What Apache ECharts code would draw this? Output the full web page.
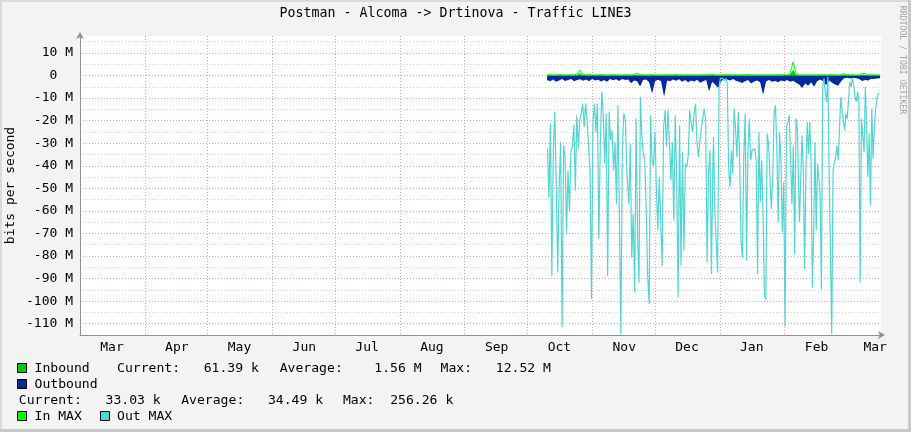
<!DOCTYPE html>
<html><head><meta charset="utf-8">
<script src="https://cdn.jsdelivr.net/npm/echarts@6/dist/echarts.min.js"></script>
<style>html,body{margin:0;padding:0;background:#f3f3f3}#c{width:911px;height:432px}</style>
</head><body><div id="c"></div>
<script>
// ---------- data ----------
const TITLE = 'Postman - Alcoma -> Drtinova - Traffic LINE3';
const Y_TITLE = 'bits per second';
const WATERMARK = 'RRDTOOL / TOBI OETIKER';
// x axis: days counted from 1 March
const MONTH_NAMES = ['Mar','Apr','May','Jun','Jul','Aug','Sep','Oct','Nov','Dec','Jan','Feb','Mar'];
const MONTH_START_DAYS = [0,31,61,92,122,153,184,214,245,275,306,337,365];
const LABEL_OFFSET_DAYS = 15.3;
const X_MIN = 0, X_MAX = 383.1;
// y axis in M (bits/s)
const Y_MIN = -115, Y_MAX = 17.5, Y_STEP = 5;

// Out MAX (plotted negative), read in four consecutive stretches
const outMaxA = [-32.4,-53.9,-21.3,-88.7,-33.9,-16.1,-48.0,-87.3,-48.7,-29.5,
 -111.7,-31.0,-36.1,-70.2,-42.0,-60.6,-33.2,-31.7,-22.0,-51.0,
 -17.6,-32.4,-19.9,-16.9,-12.4,-22.8,-12.4,-19.9,-19.9,-42.0,
 -99.1,-20.6,-12.4,-25.0,-12.4,-72.4,-30.2,-7.3,-16.9,-39.1,
 -16.9,-88.7,-16.1,-28.7,-24.3,-42.0,-29.5,-56.9,-13.2,-12.4,
 -114.7,-32.4,-16.9,-19.1,-41.3];
const outMaxB = [-56.9,-30.2,-80.6,-61.3,-96.1,-19.1,-70.2,-91.7,-9.5,-27.3,
 -34.7,-37.6,-59.9,-88.7,-101.3,-17.6,-37.6,-39.9,-25.0,-49.5,
 -68.7,-45.0,-45.0,-84.3,-22.8,-15.4,-31.7,-15.4,-28.7,-46.5,
 -29.5,-64.3,-17.6,-45.0,-98.4,-22.1,-84.3,-33.9,-77.6,-39.1,
 -40.6,-35.4,-15.4,-21.3,-25.0,-16.9,-12.4,-29.5,-36.1,-28.7,
 -28.7,-19.1,-14.7,-19.9,-82.8,-43.6,-33.2,-88.0,-39.1];
const outMaxC = [-27.3,-61.3,-61.3,-87.3,-5.0,-1.3,-1.3,-1.3,-2.4,-1.3,
 -3.6,-41.3,-49.5,-33.2,-43.6,-14.7,-23.6,-36.1,-16.1,-38.4,
 -73.9,-80.6,-36.1,-16.9,-82.1,-33.2,-19.1,-37.6,-33.2,-33.2,
 -32.4,-37.6,-88.0,-25.0,-56.1,-37.6,-61.3,-97.6,-99.1,-25.8,
 -30.2,-45.0,-59.1,-45.8,-16.9,-13.2,-31.7,-65.0,-25.0,-37.6,
 -69.5,-47.3,-111.0,-22.8,-20.6,-17.6,-17.6,-56.9,-31.0,-79.1,
 -19.1,-24.3,-53.9];
const outMaxD = [-65.0,-65.8,-26.5,-42.8,-85.8,-42.0,-20.6,-34.7,-20.6,-37.6,
 -93.9,-70.2,-29.5,-68.7,-39.1,-39.1,-52.4,-94.7,-5.0,-1.3,
 -7.3,-11.7,-0.6,-44.3,-45.0,-114.7,-42.0,-42.0,-36.1,-31.0,
 -37.6,-38.4,-9.5,-15.4,-15.4,-24.3,-16.9,-19.1,-18.4,-2.8,
 -5.0,-1.3,-4.3,-9.5,-11.7,-7.3,-11.0,-91.7,-19.1,-19.1,
 -33.9,-5.0,-22.8,-45.0,-25.8,-57.6,-14.7,-36.9,-22.8,-14.7,
 -10.2,-8.0,-8.0];
// first / last day of each stretch
const outMaxSpans = [[223.56,261.5],[262.5,302.7],[303.0,343.8],[344.1,382.4]];

// Outbound (negative), Inbound, In MAX: regular samples
const SAMPLE_START_DAY = 223.4, SAMPLE_STEP_DAY = 1.435;
const outbound = [-2.0,-2.5,-1.8,-2.8,-2.2,-1.6,-2.4,-2.0,-1.5,-2.6,
 -2.0,-1.7,-2.3,-1.8,-2.5,-1.6,-2.2,-1.9,-2.7,-2.0,
 -2.8,-1.6,-2.1,-1.7,-2.4,-1.5,-2.0,-1.8,-3.4,-2.2,
 -2.6,-4.9,-2.0,-1.8,-3.0,-8.0,-2.4,-1.9,-2.6,-9.5,
 -2.2,-2.5,-1.8,-2.3,-1.7,-2.8,-2.0,-3.0,-2.2,-2.7,
 -1.9,-3.2,-2.5,-2.0,-7.0,-2.8,-4.0,-5.5,-2.5,-1.5,
 -1.8,-2.2,-1.6,-2.4,-2.8,-3.3,-2.6,-2.0,-3.5,-2.7,
 -2.2,-3.0,-8.5,-2.5,-2.0,-2.8,-2.4,-3.0,-2.2,-2.6,
 -2.0,-2.8,-2.3,-3.2,-4.0,-5.5,-3.5,-4.5,-3.0,-5.0,
 -2.5,-1.8,-2.6,-4.2,-2.2,-3.2,-4.0,-4.5,-2.5,-1.2,
 -1.0,-1.3,-1.0,-1.2,-1.5,-2.4,-2.0,-2.2,-1.4,-1.6,
 -1.3,-1.2];
const inbound = [0.1,0.12,0.08,0.1,0.12,0.1,0.08,0.12,0.1,0.1,
 0.2,1.0,0.2,0.1,0.12,0.08,0.1,0.1,0.12,0.1,
 0.08,0.1,0.12,0.1,0.1,0.08,0.12,0.1,0.1,0.12,
 0.4,0.12,0.1,0.08,0.1,0.12,0.1,0.1,0.08,0.1,
 0.12,0.1,0.1,0.12,0.1,0.08,0.1,0.12,0.1,0.1,
 0.08,0.1,0.12,0.1,0.12,0.3,0.1,0.08,0.1,0.1,
 0.12,0.1,0.08,0.1,0.1,0.12,0.1,0.12,0.1,0.08,
 0.1,0.12,0.1,0.1,0.08,0.1,0.12,0.1,0.1,0.12,
 0.1,0.5,2.5,0.3,0.1,0.08,0.1,0.12,0.1,0.1,
 0.08,0.1,0.12,0.1,0.1,0.12,0.1,0.08,0.1,0.4,
 0.12,0.1,0.1,0.08,0.1,0.4,0.3,0.1,0.12,0.1,
 0.1,0.1];
const inMax = [0.3,0.35,0.25,0.3,0.4,0.3,0.25,0.35,0.3,0.3,
 0.6,2.4,0.5,0.3,0.35,0.25,0.3,0.3,0.4,0.3,
 0.25,0.3,0.35,0.3,0.3,0.25,0.35,0.3,0.3,0.4,
 1.1,0.35,0.3,0.25,0.3,0.35,0.3,0.3,0.25,0.3,
 0.35,0.3,0.3,0.4,0.3,0.25,0.3,0.35,0.3,0.3,
 0.25,0.3,0.35,0.3,0.4,0.7,0.3,0.25,0.3,0.3,
 0.35,0.3,0.25,0.3,0.3,0.35,0.3,0.4,0.3,0.25,
 0.3,0.35,0.3,0.3,0.25,0.3,0.35,0.3,0.3,0.4,
 0.3,1.2,6.0,0.8,0.3,0.25,0.3,0.35,0.3,0.3,
 0.25,0.3,0.35,0.3,0.3,0.4,0.3,0.25,0.3,0.9,
 0.35,0.3,0.3,0.25,0.3,1.0,0.8,0.3,0.35,0.3,
 0.3,0.3];

// legend texts
const LEGEND_ROW1 = ['Inbound','Current:   61.39 k','Average:    1.56 M','Max:   12.52 M'];
const LEGEND_ROW2 = ['Outbound'];
const LEGEND_ROW3 = ['Current:   33.03 k','Average:   34.49 k','Max:  256.26 k'];
const LEGEND_ROW4 = ['In MAX','Out MAX'];

// ---------- build ----------
const C_IN = '#00cc00', C_OUT = '#002a97', C_INMAX = '#00ff00', C_OUTMAX = '#52d5d2';
const FONT = '"DejaVu Sans Mono", monospace';

function spread(values, a, b) {
  const step = (b - a) / (values.length - 1);
  return values.map((v, i) => [a + i * step, v]);
}
function sampled(values) {
  return values.map((v, i) => [SAMPLE_START_DAY + i * SAMPLE_STEP_DAY, v]);
}
const outMaxData = [].concat(
  spread(outMaxA, outMaxSpans[0][0], outMaxSpans[0][1]),
  spread(outMaxB, outMaxSpans[1][0], outMaxSpans[1][1]),
  spread(outMaxC, outMaxSpans[2][0], outMaxSpans[2][1]),
  spread(outMaxD, outMaxSpans[3][0], outMaxSpans[3][1]));
const labelDays = MONTH_START_DAYS.map(d => d + LABEL_OFFSET_DAYS);

function txt(x, y, text, extra) {
  return Object.assign({type:'text', x:x, y:y, silent:true,
    style: Object.assign({text:text, font:'13.1px ' + FONT, fill:'#000', align:'left', verticalAlign:'middle'}, extra || {})});
}
function box(x, y, color) {
  return {type:'rect', shape:{x:x, y:y, width:9, height:9}, silent:true,
    style:{fill:color, stroke:'#000', lineWidth:1}};
}

const chart = echarts.init(document.getElementById('c'), null, {renderer:'canvas'});
chart.setOption({
  backgroundColor:'#f3f3f3',
  animation:false,
  grid:{left:80, right:30, top:36, bottom:97, show:true, backgroundColor:'#ffffff', borderWidth:0},
  xAxis:{
    type:'value', min:X_MIN, max:X_MAX,
    axisLine:{show:true, onZero:false, lineStyle:{color:'#909090', width:1},
      symbol:['none','arrow'], symbolSize:[6,7], symbolOffset:[0,4]},
    axisTick:{show:false, customValues:MONTH_START_DAYS},
    axisLabel:{customValues:labelDays, margin:6, color:'#000', fontFamily:FONT, fontSize:13,
      formatter:function(v){ for (let i=0;i<labelDays.length;i++){ if (Math.abs(labelDays[i]-v)<0.01) return MONTH_NAMES[i]; } return ''; }},
    splitLine:{show:true, showMinLine:false, showMaxLine:false, lineStyle:{color:'#e6a0a0', width:1, type:[1,2]}}
  },
  yAxis:{
    type:'value', min:Y_MIN, max:Y_MAX, interval:Y_STEP,
    axisLine:{show:true, onZero:false, lineStyle:{color:'#909090', width:1},
      symbol:['none','arrow'], symbolSize:[6,7], symbolOffset:[0,4]},
    axisTick:{show:false},
    axisLabel:{margin:7, color:'#000', fontFamily:FONT, fontSize:13,
      formatter:function(v){ if (Math.round(v) % 10 !== 0 || v > 15) return ''; return v === 0 ? '0  ' : v + ' M'; }},
    splitLine:{show:true, showMinLine:false, showMaxLine:false, lineStyle:{color:['#e6a0a0','#cfcfcf'], width:1, type:[1,2]}}
  },
  series:[
    {name:'Inbound', type:'line', data:sampled(inbound), showSymbol:false, silent:true,
      lineStyle:{width:0}, areaStyle:{color:C_IN, opacity:1}},
    {name:'Outbound', type:'line', data:sampled(outbound), showSymbol:false, silent:true,
      lineStyle:{width:0}, areaStyle:{color:C_OUT, opacity:1}},
    {name:'In MAX', type:'line', data:sampled(inMax), showSymbol:false, silent:true,
      lineStyle:{width:1, color:C_INMAX}},
    {name:'Out MAX', type:'line', data:outMaxData, showSymbol:false, silent:true,
      lineStyle:{width:1.2, color:C_OUTMAX}}
  ],
  graphic:[
    {type:'rect', shape:{x:0, y:0, width:911, height:2}, silent:true, style:{fill:'#dadada'}},
    {type:'rect', shape:{x:0, y:0, width:2, height:432}, silent:true, style:{fill:'#dadada'}},
    {type:'rect', shape:{x:0, y:429, width:911, height:3}, silent:true, style:{fill:'#c8c8c8'}},
    {type:'rect', shape:{x:908, y:0, width:3, height:432}, silent:true, style:{fill:'#c8c8c8'}},
    txt(455.5, 14, TITLE, {align:'center', font:'13.3px ' + FONT}),
    Object.assign(txt(11, 185.5, Y_TITLE, {align:'center', font:'13px ' + FONT}), {rotation:Math.PI/2}),
    Object.assign(txt(902, 60, WATERMARK, {align:'center', font:'8.2px ' + FONT, fill:'#a4a4a4'}), {rotation:-Math.PI/2}),
    box(17.5, 363.5, C_IN),
    txt(34.5, 368.5, LEGEND_ROW1[0]),
    txt(117, 368.5, LEGEND_ROW1[1]),
    txt(279.7, 368.5, LEGEND_ROW1[2]),
    txt(440.6, 368.5, LEGEND_ROW1[3]),
    box(17.5, 379.5, C_OUT),
    txt(34.5, 384.5, LEGEND_ROW2[0]),
    txt(18.8, 400.5, LEGEND_ROW3[0]),
    txt(181.2, 400.5, LEGEND_ROW3[1]),
    txt(342.9, 400.5, LEGEND_ROW3[2]),
    box(17.5, 411.5, C_INMAX),
    txt(34.5, 416.5, LEGEND_ROW4[0]),
    box(100.5, 411.5, C_OUTMAX),
    txt(117, 416.5, LEGEND_ROW4[1])
  ]
});
</script></body></html>
